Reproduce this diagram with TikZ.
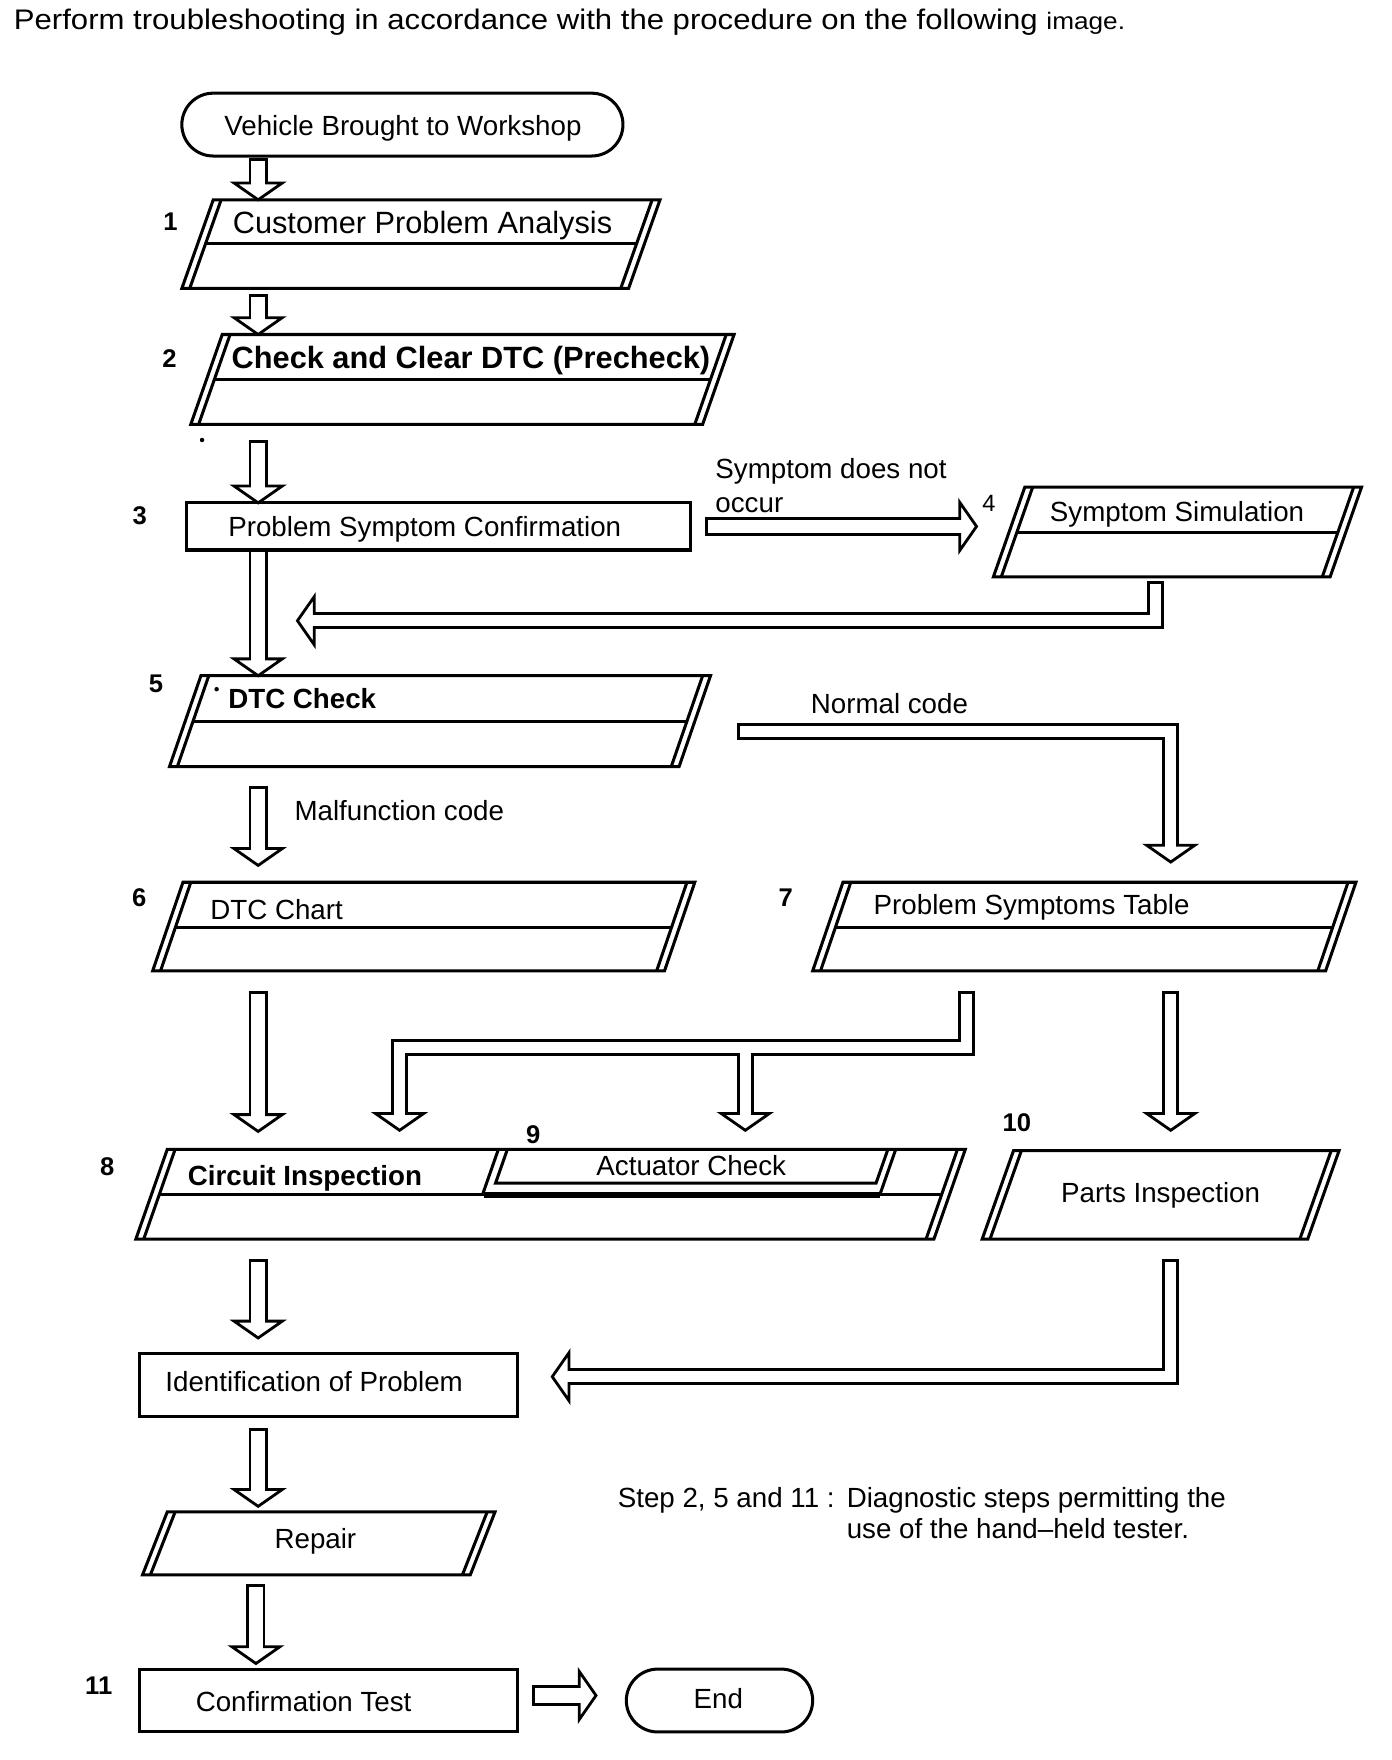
\documentclass[tikz,border=0pt]{standalone}
\usepackage{fontspec}
\setmainfont{Liberation Sans}
\begin{document}
\begin{tikzpicture}[x=0.5pt,y=-0.5pt,
  boxline/.style={line width=1.35pt, line join=miter},
  txt/.style={inner sep=0pt, font=\fontsize{12.35}{14}\selectfont},
  txtb/.style={inner sep=0pt, font=\fontsize{12.35}{14}\selectfont\bfseries},
  big/.style={inner sep=0pt, font=\fontsize{13.7}{16}\selectfont},
  bigb/.style={inner sep=0pt, font=\fontsize{13.7}{16}\selectfont\bfseries},
  lbl/.style={inner sep=0pt, font=\fontsize{11.4}{13}\selectfont\bfseries},
  shout/.style={line width=8.5pt, line join=miter},
  shin/.style={line width=6pt, white, line join=miter, shorten <=1.25pt, shorten >=-1pt},
  bshout/.style={line width=7.5pt, line join=miter},
  bshin/.style={line width=5pt, white, line join=miter, shorten <=1.25pt, shorten >=-1pt},
  headdown/.pic={\draw[line width=1.25pt, fill=white, line join=miter] (-21.5,0) -- (0,15) -- (21.5,0) -- cycle;},
  headright/.pic={\draw[line width=1.25pt, fill=white, line join=miter] (0,-21.5) -- (15,0) -- (0,21.5) -- cycle;},
  headleft/.pic={\draw[line width=1.25pt, fill=white, line join=miter] (0,-21.5) -- (-15,0) -- (0,21.5) -- cycle;},
]
\useasboundingbox (0,0) rectangle (1240,1568);

% parallelogram with doubled sides: TLx, TRx, top, bottom, slant
\newcommand{\mypgbox}[5]{%
  \draw[boxline] (#1,#3) -- (#2,#3) -- ({#2-#5},#4) -- ({#1-#5},#4) -- cycle;
  \draw[boxline] ({#1+7},#3) -- ({#1+7-#5},#4);
  \draw[boxline] ({#2-7},#3) -- ({#2-7-#5},#4);
}
% middle line: TLx, TRx, top, bottom, slant, mid
\newcommand{\mymidline}[6]{%
  \draw[boxline] ({#1+7-#5*(#6-#3)/(#4-#3)},#6) -- ({#2-7-#5*(#6-#3)/(#4-#3)},#6);
}

% ---------- title ----------
\node[inner sep=0pt, anchor=base west, font=\fontsize{12.6}{15}\selectfont\addfontfeature{FakeStretch=1.1}] (title) at (12,26)
  {Perform troubleshooting in accordance with the procedure on the following {\fontsize{10.6}{13}\selectfont image.}};

% ---------- start ----------
\draw[boxline, rounded corners=14pt] (162,83) rectangle (555,139);
\node[txt, anchor=base] (start) at (359,121) {Vehicle Brought to Workshop};

% ---------- box 1 ----------
\mypgbox{190}{588}{178}{257}{28}
\mymidline{190}{588}{178}{257}{28}{217}
\node[big, anchor=base west] (t1) at (207,208) {Customer Problem Analysis};
\node[lbl, anchor=base] (n1) at (152,205) {1};

% ---------- box 2 ----------
\mypgbox{198}{654}{298}{378}{28}
\mymidline{198}{654}{298}{378}{28}{338}
\node[bigb, anchor=base west] (t2) at (206,328) {Check and Clear DTC (Precheck)};
\node[lbl, anchor=base] (n2) at (151,327) {2};
\fill (180,392) circle (1pt);

% ---------- box 3 ----------
\draw[boxline] (166,448) rectangle (615,490);
\node[txt, anchor=base west] (t3) at (203,478) {Problem Symptom Confirmation};
\node[lbl, anchor=base] (n3) at (124.5,467) {3};

% ---------- box 4 ----------
\mypgbox{913}{1213}{434}{514}{28}
\mymidline{913}{1213}{434}{514}{28}{474}
\node[txt, anchor=base west] (t4) at (935,465) {Symptom Simulation};
\node[inner sep=0pt, anchor=base, font=\fontsize{10.5}{12}\selectfont] (n4) at (881,456) {4};
\node[txt, anchor=base west] (lsym1) at (637,426) {Symptom does not};
\node[txt, anchor=base west] (lsym2) at (637,457) {occur};

% ---------- box 5 ----------
\mypgbox{179}{633}{602}{683}{28}
\mymidline{179}{633}{602}{683}{28}{643}
\node[txtb, anchor=base west] (t5) at (203,631) {DTC Check};
\node[lbl, anchor=base] (n5) at (139,617) {5};
\fill (193,614) circle (1pt);
\node[txt, anchor=base west] (lnorm) at (722,636) {Normal code};
\node[txt, anchor=base west] (lmal) at (262,731) {Malfunction code};

% ---------- box 6 ----------
\mypgbox{163}{619}{786}{865}{27}
\mymidline{163}{619}{786}{865}{27}{826}
\node[txt, anchor=base west] (t6) at (187,819) {DTC Chart};
\node[lbl, anchor=base] (n6) at (124,808) {6};

% ---------- box 7 ----------
\mypgbox{751}{1208}{786}{865}{27}
\mymidline{751}{1208}{786}{865}{27}{826}
\node[txt, anchor=base west] (t7) at (778,815) {Problem Symptoms Table};
\node[lbl, anchor=base] (n7) at (700,808) {7};

% ---------- box 8 with actuator check (9) ----------
\mypgbox{149}{860}{1024}{1104}{28}
\mymidline{149}{860}{1024}{1104}{28}{1064}
\draw[line width=2.6pt] (431,1064.5) -- (784,1064.5);
\draw[boxline] (444,1024) -- (430,1064);
\draw[boxline] (452,1024) -- (441.5,1054) -- (780.5,1054) -- (791,1024);
\draw[boxline] (798,1024) -- (784,1064);
\node[txtb, anchor=base west] (t8) at (167,1056) {Circuit Inspection};
\node[txt, anchor=base west] (t9) at (531,1047) {Actuator Check};
\node[lbl, anchor=base] (n8) at (95.5,1047) {8};
\node[lbl, anchor=base] (n9) at (475,1019) {9};

% ---------- box 10 ----------
\mypgbox{903}{1193}{1025}{1104}{28}
\node[txt, anchor=base] (t10) at (1034,1071) {Parts Inspection};
\node[lbl, anchor=base] (n10) at (906,1008) {10};

% ---------- identification ----------
\draw[boxline] (124,1206) rectangle (461,1262);
\node[txt, anchor=base west] (tid) at (147,1240) {Identification of Problem};

% ---------- repair ----------
\mypgbox{149}{441}{1347}{1403}{22}
\node[txt, anchor=base] (trep) at (281,1380) {Repair};

% ---------- confirmation test ----------
\draw[boxline] (124,1487) rectangle (461,1543);
\node[txt, anchor=base west] (t11) at (174,1525) {Confirmation Test};
\node[lbl, anchor=base] (n11) at (88,1510) {11};

% ---------- end ----------
\draw[boxline, rounded corners=14pt] (558,1487) rectangle (724,1543);
\node[txt, anchor=base] (tend) at (640,1522) {End};

% ---------- note ----------
\node[txt, anchor=base west] (note1) at (550,1343) {Step 2, 5 and 11 :};
\node[txt, anchor=base west] (note2) at (754,1343) {Diagnostic steps permitting the};
\node[txt, anchor=base west] (note3) at (754,1371) {use of the hand–held tester.};

% ---------- arrow coordinates ----------
\coordinate (a0s) at (230,141);  \coordinate (a0e) at (230,163);
\coordinate (a1s) at (230,262);  \coordinate (a1e) at (230,283);
\coordinate (a2s) at (230,392);  \coordinate (a2e) at (230,433);
\coordinate (a3s) at (230,490);  \coordinate (a3e) at (230,587);
\coordinate (a4s) at (628,469);  \coordinate (a4e) at (855,469);
\coordinate (a5s) at (1029.5,518); \coordinate (a5m) at (1029.5,553); \coordinate (a5e) at (280,553);
\coordinate (a6s) at (657,651.5); \coordinate (a6m) at (1043,651.5); \coordinate (a6e) at (1043,753);
\coordinate (a7s) at (230,700);  \coordinate (a7e) at (230,756);
\coordinate (a8s) at (230,883);  \coordinate (a8e) at (230,993);
\coordinate (a9s) at (861,883);  \coordinate (a9m) at (861,933); \coordinate (a9n) at (356,933); \coordinate (a9e) at (356,992);
\coordinate (a9b) at (664,933);  \coordinate (a9f) at (664,992);
\coordinate (a10s) at (1043,883); \coordinate (a10e) at (1043,992);
\coordinate (a11s) at (230,1122); \coordinate (a11e) at (230,1177);
\coordinate (a12s) at (1042.5,1122); \coordinate (a12m) at (1042.5,1226.5); \coordinate (a12e) at (507,1226.5);
\coordinate (a13s) at (230,1272); \coordinate (a13e) at (230,1327);
\coordinate (a14s) at (228,1411); \coordinate (a14e) at (228,1467);
\coordinate (a15s) at (474,1510.5); \coordinate (a15e) at (516,1510.5);

% ---------- arrows: outer strokes ----------
\foreach \s/\e in {a0s/a0e,a1s/a1e,a2s/a2e,a3s/a3e,a7s/a7e,a8s/a8e,a11s/a11e,a13s/a13e,a14s/a14e,a4s/a4e}
  \draw[shout] (\s) -- (\e);
\draw[line width=9.5pt] (a15s) -- (a15e);
\draw[bshout] (a5s) -- (a5m) -- (a5e);
\draw[bshout] (a6s) -- (a6m) -- (a6e);
\draw[bshout] (a9s) -- (a9m) -- (a9n) -- (a9e);
\draw[bshout] (a9b) -- (a9f);
\draw[bshout] (a10s) -- (a10e);
\draw[bshout] (a12s) -- (a12m) -- (a12e);

% ---------- heads ----------
\foreach \e in {a0e,a1e,a2e,a3e,a7e,a8e,a11e,a13e,a14e,a6e,a9e,a9f,a10e}
  \pic at (\e) {headdown};
\pic at (a4e) {headright};
\pic at (a15e) {headright};
\pic at (a5e) {headleft};
\pic at (a12e) {headleft};

% ---------- arrows: inner strokes ----------
\foreach \s/\e in {a0s/a0e,a1s/a1e,a2s/a2e,a7s/a7e,a8s/a8e,a11s/a11e,a13s/a13e,a14s/a14e,a4s/a4e}
  \draw[shin] (\s) -- (\e);
\draw[shin, shorten <=0pt] (a3s) -- (a3e);
\draw[line width=7pt, white, shorten <=1.25pt, shorten >=-1pt] (a15s) -- (a15e);
\draw[bshin] (a5s) -- (a5m) -- (a5e);
\draw[bshin] (a6s) -- (a6m) -- (a6e);
\draw[bshin] (a9s) -- (a9m) -- (a9n) -- (a9e);
\draw[bshin, shorten <=0pt] (a9b) -- (a9f);
\draw[bshin] (a10s) -- (a10e);
\draw[bshin] (a12s) -- (a12m) -- (a12e);

% redraw box 3 bottom edge where shaft starts
\draw[boxline] (215,490) -- (245,490);
\end{tikzpicture}
\end{document}
